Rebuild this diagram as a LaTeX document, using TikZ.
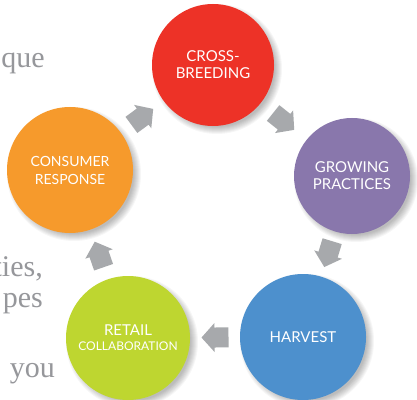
\documentclass[tikz,border=0pt]{standalone}
\usepackage{fontspec}
\setsansfont{Lato}
\newfontfamily\bgserif{Liberation Serif}
\usetikzlibrary{backgrounds}
\definecolor{cbred}{RGB}{237,50,39}
\definecolor{gppurple}{RGB}{137,119,172}
\definecolor{hvblue}{RGB}{77,144,205}
\definecolor{rcgreen}{RGB}{190,214,48}
\definecolor{crorange}{RGB}{246,154,44}
\definecolor{arrowgray}{RGB}{167,169,172}
\definecolor{textgray}{RGB}{150,151,155}
\tikzset{
  circ/.style={circle, inner sep=0pt, minimum size=#1, text=white, align=center,
    font=\sffamily\fontsize{15}{17}\selectfont},
  blockarrow/.pic={\fill[arrowgray] (-13.5,-10) -- (0.5,-10) -- (0.5,-14.5) -- (13.5,0)
    -- (0.5,14.5) -- (0.5,10) -- (-13.5,10) -- cycle;},
  bgtext/.style={text=textgray, inner sep=0pt, font=\bgserif\fontsize{30}{31}\selectfont}
}
\begin{document}
\begin{tikzpicture}[x=1pt,y=1pt]
\useasboundingbox (0,0) rectangle (417,399);
\node[circ=122pt, fill=cbred] (cb) at (213,334) {CROSS-\\BREEDING};
\node[circ=116pt, fill=gppurple] (gp) at (352,223) {GROWING\\PRACTICES};
\node[circ=126pt, fill=hvblue] (hv) at (303,62) {HARVEST};
\node[circ=124pt, fill=rcgreen] (rc) at (128,61) {RETAIL\\[-2pt]{\fontsize{12}{14}\selectfont COLLABORATION}};
\node[circ=126pt, fill=crorange, font=\sffamily\fontsize{14}{18}\selectfont] (cr) at (70,229) {CONSUMER\\RESPONSE};
\path (cb) -- pic[midway, sloped, allow upside down] {blockarrow} (gp);
\path (gp) -- pic[midway, sloped, allow upside down] {blockarrow} (hv);
\path (hv) -- pic[midway, sloped, allow upside down] {blockarrow} (rc);
\path (rc) -- pic[midway, sloped, allow upside down] {blockarrow} (cr);
\path (cr) -- pic[midway, sloped, allow upside down] {blockarrow} (cb);
\begin{scope}[on background layer]
  \fill[white] (0,0) rectangle (417,399);
  \node[bgtext, anchor=base east] (t1) at (45,331) {que};
  \node[bgtext, anchor=base east] (t2) at (43,123) {ties,};
  \node[bgtext, anchor=base east] (t3) at (43,92) {pes};
  \node[bgtext, anchor=base east] (t4) at (55,22) {you};
  \foreach \n/\r in {cb/61,gp/58,hv/63,rc/62,cr/63}{
    \foreach \i in {0,...,7}{
      \fill[black, opacity=0.035] ([shift={(4,-4)}]\n.center) circle ({\r-3+\i});
    }
  }
\end{scope}
\end{tikzpicture}
\end{document}
